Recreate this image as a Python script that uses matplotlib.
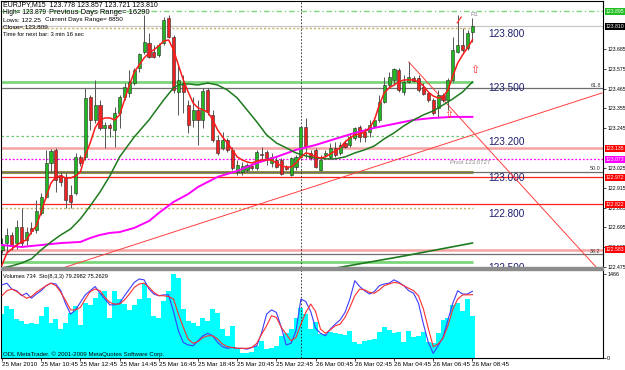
import matplotlib
matplotlib.use("Agg")
import matplotlib.pyplot as plt
from matplotlib.patches import Rectangle
from matplotlib.transforms import blended_transform_factory

plt.rcParams['font.family'] = ['Liberation Sans', 'DejaVu Sans']

# ---------------- data ----------------
symbol = "EURJPY,M15"
time_labels = ["25 Mar 2010", "25 Mar 10:45", "25 Mar 12:45", "25 Mar 14:45",
               "25 Mar 16:45", "25 Mar 18:45", "25 Mar 20:45", "25 Mar 22:45",
               "26 Mar 00:45", "26 Mar 02:45", "26 Mar 04:45", "26 Mar 06:45",
               "26 Mar 08:45"]
time_label_bars = [0, 8, 16, 24, 32, 40, 48, 56, 64, 72, 80, 88, 96]
day_separator_bar = 61  # 26 Mar 00:00

opens = [122.570, 122.608, 122.653, 122.608, 122.697, 122.625, 122.692, 122.681, 122.775, 122.864,
         123.052, 123.125, 122.986, 122.975, 122.875, 122.886, 123.086, 123.086, 123.419, 123.291,
         123.374, 123.247, 123.263, 123.236, 123.330, 123.419, 123.441, 123.496, 123.580, 123.668,
         123.718, 123.668, 123.652, 123.718, 123.857, 123.752, 123.446, 123.496, 123.374, 123.291,
         123.347, 123.291, 123.457, 123.319, 123.180, 123.136, 123.180, 123.125, 123.002, 123.002,
         123.014, 123.036, 123.025, 123.102, 123.113, 123.052, 123.069, 123.069, 123.030, 122.986,
         123.030, 123.086, 123.252, 123.108, 123.125, 123.014, 123.097, 123.086, 123.136, 123.108,
         123.163, 123.152, 123.191, 123.252, 123.224, 123.224, 123.258, 123.291, 123.391, 123.485,
         123.513, 123.569, 123.446, 123.502, 123.524, 123.524, 123.474, 123.441, 123.402, 123.358,
         123.430, 123.402, 123.513, 123.668, 123.707, 123.691, 123.778]
highs = [122.636, 122.692, 122.669, 122.736, 122.803, 122.697, 122.725, 122.847, 122.886, 123.125,
         123.130, 123.136, 123.002, 122.997, 122.930, 123.108, 123.097, 123.469, 123.430, 123.513,
         123.402, 123.280, 123.274, 123.363, 123.430, 123.496, 123.569, 123.580, 123.663, 123.874,
         123.774, 123.707, 123.718, 123.863, 123.874, 123.763, 123.596, 123.541, 123.402, 123.419,
         123.402, 123.469, 123.469, 123.347, 123.208, 123.224, 123.191, 123.141, 123.069, 123.058,
         123.052, 123.052, 123.125, 123.141, 123.125, 123.108, 123.086, 123.080, 123.041, 123.086,
         123.097, 123.258, 123.302, 123.125, 123.136, 123.097, 123.125, 123.163, 123.169, 123.169,
         123.180, 123.219, 123.252, 123.263, 123.247, 123.291, 123.302, 123.430, 123.530, 123.557,
         123.580, 123.580, 123.541, 123.613, 123.535, 123.541, 123.496, 123.446, 123.413, 123.457,
         123.441, 123.524, 123.752, 123.874, 123.802, 123.791, 123.857]
lows = [122.553, 122.558, 122.570, 122.575, 122.586, 122.597, 122.658, 122.664, 122.764, 122.858,
        122.997, 122.891, 122.925, 122.803, 122.803, 122.875, 123.036, 123.069, 123.236, 123.274,
        123.236, 123.136, 123.197, 123.141, 123.247, 123.402, 123.419, 123.485, 123.557, 123.657,
        123.635, 123.635, 123.641, 123.707, 123.746, 123.441, 123.319, 123.330, 123.219, 123.252,
        123.152, 123.247, 123.319, 123.169, 123.097, 123.125, 123.113, 123.014, 122.986, 122.986,
        123.002, 123.014, 123.014, 123.069, 123.041, 123.030, 123.025, 122.986, 123.014, 122.980,
        123.014, 123.080, 123.080, 123.069, 123.025, 123.008, 123.086, 123.075, 123.086, 123.097,
        123.136, 123.141, 123.180, 123.169, 123.169, 123.197, 123.247, 123.280, 123.385, 123.474,
        123.485, 123.446, 123.430, 123.496, 123.502, 123.446, 123.430, 123.391, 123.319, 123.302,
        123.391, 123.347, 123.502, 123.663, 123.668, 123.680, 123.721]
closes = [122.597, 122.653, 122.592, 122.697, 122.608, 122.669, 122.675, 122.786, 122.864, 123.052,
          123.119, 122.958, 122.947, 122.847, 122.836, 123.086, 123.052, 123.413, 123.291, 123.374,
          123.247, 123.263, 123.247, 123.330, 123.419, 123.474, 123.502, 123.569, 123.657, 123.724,
          123.641, 123.641, 123.707, 123.846, 123.752, 123.457, 123.513, 123.446, 123.263, 123.347,
          123.291, 123.452, 123.335, 123.180, 123.108, 123.180, 123.125, 123.025, 123.041, 123.036,
          123.041, 123.025, 123.113, 123.097, 123.080, 123.086, 123.030, 122.991, 123.019, 123.080,
          123.086, 123.252, 123.141, 123.080, 123.030, 123.069, 123.108, 123.136, 123.097, 123.152,
          123.141, 123.197, 123.247, 123.197, 123.197, 123.263, 123.291, 123.391, 123.485, 123.530,
          123.574, 123.457, 123.502, 123.530, 123.507, 123.457, 123.435, 123.402, 123.330, 123.430,
          123.402, 123.513, 123.680, 123.707, 123.680, 123.774, 123.810]

ma_fast = [122.486, 122.553, 122.575, 122.597, 122.614, 122.625, 122.669, 122.703, 122.780, 122.864,
           122.941, 122.975, 122.980, 122.969, 122.969, 122.980, 123.002, 123.097, 123.163, 123.247,
           123.291, 123.302, 123.302, 123.291, 123.319, 123.402, 123.485, 123.557, 123.596, 123.635,
           123.663, 123.680, 123.702, 123.729, 123.735, 123.680, 123.596, 123.513, 123.446, 123.385,
           123.358, 123.347, 123.335, 123.291, 123.236, 123.197, 123.163, 123.125, 123.086, 123.069,
           123.058, 123.052, 123.063, 123.069, 123.069, 123.069, 123.052, 123.036, 123.030, 123.030,
           123.052, 123.086, 123.108, 123.102, 123.086, 123.080, 123.086, 123.102, 123.119, 123.136,
           123.169, 123.191, 123.208, 123.213, 123.224, 123.247, 123.291, 123.374, 123.441, 123.469,
           123.485, 123.502, 123.513, 123.513, 123.513, 123.502, 123.480, 123.446, 123.424, 123.413,
           123.419, 123.457, 123.535, 123.607, 123.652, 123.691, 123.735]
ma_mid_bars = [0, 2, 4, 6, 8, 10, 12, 14, 16, 18, 20, 22, 24, 27, 30, 33, 35, 36, 38, 40, 42, 44,
               46, 48, 50, 52, 54, 56, 58, 60, 62, 64, 66, 68, 70, 72, 74, 76, 78, 80, 82, 84, 86,
               88, 90, 92, 94, 96]
ma_mid = [122.470, 122.481, 122.497, 122.520, 122.570, 122.614, 122.653, 122.686, 122.742, 122.814,
          122.891, 122.980, 123.086, 123.197, 123.291, 123.402, 123.469, 123.485, 123.491, 123.485,
          123.496, 123.485, 123.457, 123.413, 123.347, 123.280, 123.208, 123.163, 123.136, 123.108,
          123.091, 123.080, 123.075, 123.075, 123.086, 123.108, 123.125, 123.147, 123.186, 123.219,
          123.258, 123.291, 123.319, 123.341, 123.374, 123.408, 123.446, 123.502]
ma_slow_bars = [0, 4, 8, 12, 16, 18, 20, 22, 24, 27, 30, 32, 35, 38, 40, 44, 48, 52, 56, 60, 64,
                68, 72, 76, 80, 84, 88, 92, 96]
ma_slow = [122.597, 122.586, 122.597, 122.608, 122.614, 122.636, 122.653, 122.664, 122.669, 122.692,
           122.730, 122.775, 122.836, 122.880, 122.919, 122.975, 123.008, 123.052, 123.086, 123.125,
           123.152, 123.186, 123.219, 123.247, 123.269, 123.291, 123.302, 123.308, 123.308]
ma_long_bars = [66, 82, 96]
ma_long = [122.459, 122.536, 122.608]

volumes = [768, 907, 855, 681, 646, 593, 611, 593, 733, 890,
           611, 681, 506, 611, 785, 907, 576, 960, 925, 1047,
           1134, 1169, 698, 1169, 1030, 942, 838, 925, 1030, 1309,
           1047, 733, 698, 995, 1169, 1466, 1396, 855, 646, 611,
           558, 698, 646, 855, 785, 506, 384, 558, 175, 87,
           87, 105, 209, 297, 157, 175, 209, 384, 436, 506,
           698, 873, 768, 506, 628, 419, 419, 454, 436, 419,
           401, 471, 279, 244, 297, 314, 332, 454, 541, 489,
           436, 454, 279, 471, 366, 384, 454, 279, 262, 436,
           663, 698, 925, 960, 820, 1030, 734]
vol_max = 1466
stoch_main = [87, 89, 82, 80, 74, 77, 71, 76, 80, 86,
              89, 88, 80, 64, 52, 57, 66, 75, 80, 85,
              77, 70, 63, 63, 65, 74, 82, 90, 94, 93,
              82, 76, 74, 75, 75, 55, 32, 18, 15, 14,
              20, 26, 29, 26, 18, 13, 11, 12, 11, 11,
              10, 12, 14, 30, 52, 57, 54, 36, 15, 17,
              32, 70, 67, 55, 35, 29, 26, 34, 40, 45,
              54, 70, 92, 85, 80, 76, 79, 86, 88, 89,
              93, 90, 86, 80, 77, 65, 40, 18, 5, 14,
              24, 45, 65, 80, 76, 76, 79.2982]
stoch_signal = [74, 80, 82, 79, 75, 71, 73, 78, 82, 86,
                89, 86, 78, 68, 57, 57, 60, 70, 79, 82,
                80, 72, 66, 64, 64, 69, 76, 84, 88, 89,
                84, 78, 74, 74, 73, 70, 52, 36, 22, 17,
                19, 24, 26, 26, 22, 16, 13, 12, 11, 11,
                11, 12, 17, 28, 38, 50, 48, 36, 28, 20,
                24, 40, 54, 64, 55, 34, 29, 33, 38, 40,
                48, 60, 74, 82, 81, 78, 77, 81, 86, 88,
                90, 89, 86, 83, 80, 74, 58, 35, 13, 16,
                23, 38, 58, 70, 75, 75, 75.2629]

trend_up = [(12.45, 122.470), (122.45, 123.441)]
trend_down = [(83, 123.613), (121.4, 122.470)]

round_levels = [123.800, 123.500, 123.200, 123.000, 122.800, 122.500]
fib_levels = [123.467, 123.004, 122.545]
fib_names = ["61.8", "50.0", "38.2"]
pivot_value = 123.073
pivot_text = "Pivot 123.0727"
bid_price = 123.810
level_lines = [(123.895, '#7ED67E', 'dashdot'), (123.135, '#F5A3A3', 'thick'),
               (123.073, '#FF00FF', 'dotted'), (122.972, '#FF2020', 'solid'),
               (122.822, '#FF2020', 'solid'), (122.572, '#F5A3A3', 'thick')]
price_boxes = [(123.895, '#22C022'), (123.810, '#000000'), (123.135, '#FF0000'),
               (123.073, '#FF00FF'), (122.972, '#FF0000'), (122.822, '#FF0000'),
               (122.572, '#FF0000')]
price_box_text = ["123.895", "123.810", "123.135", "123.073", "122.972", "122.822", "122.583"]
axis_ticks = [123.685, 123.575, 123.465, 123.355, 123.245, 123.025,
              122.915, 122.805, 122.695, 122.585, 122.475]
up_arrows = [(96.4, 123.569), (91.2, 123.319)]
info_high, info_low, info_close = "123.879", "122.25", "123.809"
prev_range, cur_range = "16290", "8850"

# ---------------- layout ----------------
W, H = 625, 370
fig = plt.figure(figsize=(W / 100, H / 100), dpi=100)
fig.patch.set_facecolor('white')


def px_rect(l, t, r, b):
    return [l / W, 1 - b / H, (r - l) / W, (b - t) / H]


def fx(x):
    return x / W


def fy(y):
    return 1 - y / H


ax = fig.add_axes(px_rect(1, 1, 603, 267))
axv = fig.add_axes(px_rect(1, 270, 603, 357.5))
n = len(opens)
bars = list(range(n))
XL = (-0.204, 122.65)

# ---------------- main panel ----------------
ax.set_xlim(*XL)
ax.set_ylim(122.475, 123.951)
last = n - 1 + 0.15

round_styles = [('#C8B468', (0, (1.5, 1.5)), 1.0), ('#7CD67C', '-', 2.0),
                ('#6CC46C', (0, (2, 2)), 0.9), ('#9A9A40', '-', 2.2),
                ('#C8B468', (0, (1.5, 1.5)), 1.0), ('#7CD67C', '-', 2.0)]
for lv, (c, ls, lw) in zip(round_levels, round_styles):
    ax.hlines(lv, XL[0], last, colors=c, linestyles=ls, linewidth=lw, zorder=2)
    ax.text(99.2, lv - 0.004, f"{lv:.3f}", color='#1C1C6E', fontsize=7.2,
            va='top', ha='left', zorder=3, clip_on=True)
for lv, nm in zip(fib_levels, fib_names):
    ax.axhline(lv, color='#6E6E6E', lw=0.9, zorder=2)
    ax.text(122.2, lv + 0.004, nm, fontsize=3.9, color='#333333', ha='right',
            va='bottom', zorder=3)
for lv, c, st in level_lines:
    if st == 'thick':
        ax.axhline(lv, color=c, lw=1.8, zorder=2)
    elif st == 'dotted':
        ax.axhline(lv, color=c, lw=0.9, ls=(0, (1.5, 1.5)), zorder=2)
    elif st == 'dashdot':
        ax.axhline(lv, color=c, lw=1.0, ls=(0, (4, 2, 1, 2)), zorder=2)
    else:
        ax.axhline(lv, color=c, lw=0.9, zorder=2)
ax.axhline(bid_price, color='#C8C8C8', lw=0.9, zorder=2)
ax.text(91.4, pivot_value - 0.006, pivot_text, fontsize=4.3, color='#8C8C8C',
        va='top', ha='left', zorder=3)

for pts in (trend_up, trend_down):
    ax.plot([p[0] for p in pts], [p[1] for p in pts], color='#FF4040', lw=0.7, zorder=3)

ax.axvline(day_separator_bar, color='#202020', lw=0.6, ls=(0, (2, 2)), zorder=3)

ax.plot(ma_slow_bars, ma_slow, color='#FF00FF', lw=1.4, zorder=6)
ax.plot(ma_long_bars, ma_long, color='#1E7A1E', lw=1.2, zorder=6)
ax.plot(ma_mid_bars, ma_mid, color='#1E7A1E', lw=1.1, zorder=6)

body_bottom = [min(o, c) for o, c in zip(opens, closes)]
body_h = [max(abs(c - o), 0.003) for o, c in zip(opens, closes)]
body_col = ['#22B822' if c >= o else '#EE2222' for o, c in zip(opens, closes)]
ax.vlines(bars, lows, highs, color='#555555', lw=0.7, zorder=4)
ax.bar(bars, body_h, bottom=body_bottom, width=0.62, color=body_col,
       edgecolor='#2A2A2A', linewidth=0.4, zorder=5)
ax.plot(bars, ma_fast, color='#FF1A1A', lw=1.1, zorder=7)

for bx, by in up_arrows:
    ax.text(bx, by, "\u21e7", color='#FF3030', fontsize=8, ha='center', va='center',
            family='DejaVu Sans', zorder=8)
ax.plot([92.9, 93.7], [123.830, 123.862], color='#FF3030', lw=0.9, zorder=8)
ax.text(95.6, 123.874, "R1", fontsize=4.3, color='#8C8C8C', ha='left', va='center', zorder=8)

ax.set_xticks([])
ax.yaxis.tick_right()
ax.set_yticks(axis_ticks)
ax.set_yticklabels([f"{t:.3f}" for t in axis_ticks])
ax.tick_params(axis='y', labelsize=3.7, length=2, pad=1, width=0.5)
ax.spines['bottom'].set_visible(False)
for s in ('left', 'top', 'right'):
    ax.spines[s].set_linewidth(0.8)
trans = blended_transform_factory(ax.transAxes, ax.transData)
for (pv, c), txt in zip(price_boxes, price_box_text):
    ax.text(1.005, pv, txt, transform=trans, fontsize=3.7, color='white', va='center',
            ha='left', clip_on=False, zorder=10,
            bbox=dict(boxstyle='square,pad=0.2', fc=c, ec='none'))

# info text
fig.text(fx(3), fy(5), f"{symbol}  {opens[-1]:.3f} {highs[-1]:.3f} {lows[-1]:.3f} {closes[-1]:.3f}",
         fontsize=5.0, va='center')
fig.text(fx(3), fy(12.7), f"High= {info_high}", fontsize=4.8, va='center')
fig.text(fx(49), fy(12.7), f"Previous Days Range= {prev_range}", fontsize=5.4, va='center')
fig.text(fx(3), fy(20), f"Lows: {info_low}", fontsize=4.6, va='center')
fig.text(fx(45), fy(20), f"Current Days Range= {cur_range}", fontsize=4.6, va='center')
fig.text(fx(3), fy(27.3), f"Close= {info_close}", fontsize=4.6, va='center')
fig.text(fx(3), fy(34.3), "Time for next bar: 3 min 16 sec", fontsize=4.2, va='center')

fig.add_artist(Rectangle((fx(1), fy(270)), 602 / W, 3 / H, transform=fig.transFigure,
                         color='#8C8C8C', zorder=1))

# ---------------- lower panel ----------------
axv.set_xlim(*XL)
axv.bar(bars, volumes, width=1.0, color='#00FFFF', linewidth=0, zorder=2)
axv.set_ylim(0, vol_max * 87.5 / 83.5)
axv.axvline(day_separator_bar, color='#202020', lw=0.6, ls=(0, (2, 2)), zorder=3)
axv.set_xticks(time_label_bars)
axv.set_xticklabels(time_labels, ha='left', fontsize=4.5)
axv.tick_params(axis='x', length=2, pad=1.2, width=0.5)
axv.spines['top'].set_visible(False)
for s in ('left', 'bottom', 'right'):
    axv.spines[s].set_linewidth(0.8)

axs = axv.twinx()
axs.set_xlim(*XL)
axs.plot(bars, stoch_main, color='#3C3CFF', lw=0.8, zorder=4)
axs.plot(bars, stoch_signal, color='#FF2E2E', lw=0.8, zorder=4)
axs.set_ylim(0, 100 * 87.5 / 83.5)
axs.set_yticks([])
axs.tick_params(axis='y', left=False, right=False, labelleft=False, labelright=False)
for s in axs.spines.values():
    s.set_visible(False)

# volume scale on the right (after twinx, which resets it to the left)
axv.set_yticks([0, vol_max])
axv.set_yticklabels(["0", str(vol_max)])
axv.tick_params(axis='y', left=False, labelleft=False, right=True, labelright=True,
                labelsize=3.9, length=2, pad=1, width=0.5)

fig.text(fx(3), fy(276.5),
         f"Volumes {volumes[-1]}  Sto(8,3,3) {stoch_main[-1]:.4f} {stoch_signal[-1]:.4f}",
         fontsize=4.1, va='center')
fig.text(fx(3), fy(354), "ODL MetaTrader. \u00a9 2001-2009 MetaQuotes Software Corp.",
         fontsize=4.4, va='center')

fig.savefig("out.png", dpi=100, facecolor='white')
